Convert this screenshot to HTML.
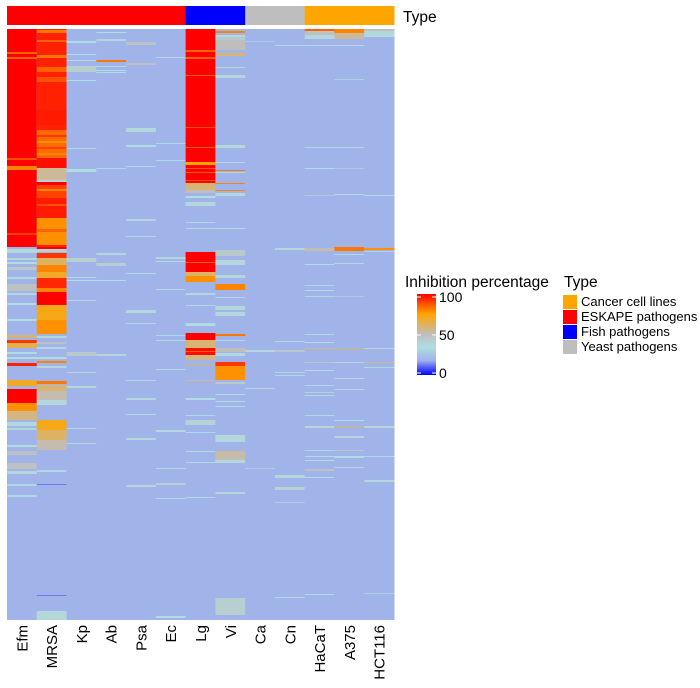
<!DOCTYPE html>
<html><head><meta charset="utf-8">
<style>
body{margin:0;background:#fff;}
svg{display:block;font-family:"Liberation Sans",Arial,sans-serif;}
</style></head>
<body>
<svg id="chart" width="700" height="688" xmlns="http://www.w3.org/2000/svg">
  <defs>
    <linearGradient id="grad" x1="0" y1="1" x2="0" y2="0">
      <stop offset="0" stop-color="#0000ff"/>
      <stop offset="0.18" stop-color="#a0b4ea"/>
      <stop offset="0.35" stop-color="#b0dde2"/>
      <stop offset="0.5" stop-color="#bebebe"/>
      <stop offset="0.75" stop-color="#ffa500"/>
      <stop offset="1" stop-color="#ff0000"/>
    </linearGradient>
  </defs>
  <g id="typebar"></g>
  <text x="403" y="22" font-size="15.5">Type</text>
  <g id="cells"></g>
  <g id="xlabels"></g>
  <g>
    <text x="405" y="287" font-size="15.5">Inhibition percentage</text>
    <rect x="417" y="294" width="19" height="81" fill="url(#grad)"/>
    <g stroke="#fff" stroke-width="1">
      <line x1="417" y1="297" x2="421" y2="297"/><line x1="432" y1="297" x2="436" y2="297"/>
      <line x1="417" y1="335" x2="421" y2="335"/><line x1="432" y1="335" x2="436" y2="335"/>
      <line x1="417" y1="373" x2="421" y2="373"/><line x1="432" y1="373" x2="436" y2="373"/>
    </g>
    <text x="439" y="302" font-size="14">100</text>
    <text x="439" y="340" font-size="14">50</text>
    <text x="439" y="378" font-size="14">0</text>
  </g>
  <g>
    <text x="564" y="287" font-size="15.5">Type</text>
    <rect x="563" y="295" width="14" height="14" fill="#ffa500"/>
    <text x="581" y="306" font-size="13">Cancer cell lines</text>
    <rect x="563" y="310" width="14" height="14" fill="#ff0000"/>
    <text x="581" y="321" font-size="13">ESKAPE pathogens</text>
    <rect x="563" y="325" width="14" height="14" fill="#0000ff"/>
    <text x="581" y="336" font-size="13">Fish pathogens</text>
    <rect x="563" y="340" width="14" height="14" fill="#bebebe"/>
    <text x="581" y="351" font-size="13">Yeast pathogens</text>
  </g>
</svg>
<script>
const columns = ["Efm","MRSA","Kp","Ab","Psa","Ec","Lg","Vi","Ca","Cn","HaCaT","A375","HCT116"];
const columnTypes = ["ESKAPE","ESKAPE","ESKAPE","ESKAPE","ESKAPE","ESKAPE","Fish","Fish","Yeast","Yeast","Cancer","Cancer","Cancer"];
const baseValue = 18;
const rowCount = 591;
// segments per column: [startRow, endRow, inhibition %]
const segEfm = [[0,218,100],[23,25,85],[28,30,85],[129,131,88],[137,141,80],[204,206,90],
 [220,224,38],[229,231,38],[233,235,35],[238,241,45],[248,250,38],[255,262,48],[264,266,38],[274,276,35],
 [290,292,35],[306,309,60],[311,314,92],[314,319,65],[323,325,35],[328,330,35],[334,337,95],[351,357,70],
 [360,374,100],[374,382,78],[382,391,58],[393,397,38],[399,401,38],[416,418,35],[422,426,48],[434,440,48],[442,445,38],[455,457,33],[466,468,33]];
const segMRSA = [[0,218,95],[1,4,82],[11,13,85],[26,29,82],[38,43,85],[48,53,88],[81,96,96],[101,129,84],[106,108,92],[112,114,78],[118,120,90],[124,126,80],[129,139,98],
 [139,153,55],[151,153,40],[153,156,100],[156,169,90],[160,162,80],[169,189,96],[175,177,88],[189,216,78],[200,203,85],[218,220,100],[220,223,40],[224,229,92],[229,236,62],
 [236,243,80],[243,249,70],[249,259,94],[259,263,80],[263,276,100],[276,296,72],
 [291,305,78],[307,309,38],[313,315,48],[318,320,38],[328,330,35],[332,334,80],[337,339,38],[352,355,82],[356,362,60],[362,371,52],[371,376,38],
 [391,401,72],[401,411,62],[411,421,52],[441,443,33],[455,456,12],[566,567,12],[582,591,38]];
const segKp = [[12,14,35],[25,26,35],[31,32,35],[37,43,42],[51,52,35],[119,120,33],[140,143,35],[229,233,42],[248,249,33],[251,252,35],[271,272,33],
 [323,325,35],[323,327,45],[343,344,33],[357,359,38],[399,400,33],[414,415,33]];
const segAb = [[3,4,35],[10,12,38],[31,33,82],[37,38,35],[41,42,35],[43,44,35],[139,140,33],[224,226,38],[234,237,42],[251,252,35],[325,327,38]];
const segPsa = [[13,16,48],[34,36,48],[99,103,38],[116,118,35],[137,138,33],[190,192,38],[207,208,33],[244,245,33],[281,284,38],
 [294,295,33],[351,352,33],[369,371,38],[385,386,33],[409,411,38],[456,458,38]];
const segEc = [[28,29,33],[114,115,33],[131,132,33],[228,230,38],[232,233,35],[260,261,33],[306,307,33],[311,312,33],[340,341,33],[401,403,38],[439,440,33],[454,456,40],[469,470,33],[587,589,35]];
const segLg = [[0,154,100],[21,23,85],[28,30,85],[46,47,85],[98,99,88],[118,119,85],[133,136,75],[139,140,88],[143,144,85],[151,152,88],
 [154,161,60],[161,164,50],[167,169,35],[173,177,38],[193,194,33],[199,200,33],[223,243,100],[233,234,85],[243,247,62],[247,253,78],[264,266,38],[276,277,33],[294,295,33],
 [295,297,35],[304,311,100],[311,319,60],[319,326,98],[322,323,85],[326,331,58],[335,336,62],[351,352,55],[369,371,35],[386,387,33],[391,396,40],[403,404,33],[422,423,35],[433,434,33],[468,469,33]];
const segVi = [[2,4,80],[6,8,38],[8,11,45],[11,21,50],[24,27,60],[38,39,38],[46,49,38],[116,119,38],[133,134,33],[141,142,82],[143,144,38],
 [154,155,80],[161,162,80],[164,167,38],[199,200,35],[221,227,45],[231,236,38],[246,249,38],[255,261,80],[268,269,38],[277,281,38],[283,287,38],
 [305,307,82],[311,312,38],[319,323,50],[324,327,38],[333,337,92],[337,351,78],[353,355,45],[365,366,35],[372,373,35],[377,378,35],
 [406,413,38],[422,424,55],[424,431,52],[431,434,38],[463,465,38],[569,586,42]];
const segCa = [[12,13,28],[321,323,38],[359,360,33],[439,440,28]];
const segCn = [[16,17,33],[219,221,38],[312,313,33],[321,323,45],[343,344,33],[346,347,33],[446,449,38],[458,461,40],[473,474,30],[568,569,33]];
const segHaCaT = [[0,2,85],[2,6,48],[6,10,38],[16,17,33],[118,119,33],[139,140,35],[166,167,45],[219,222,52],[235,236,35],[256,257,33],[261,262,35],[267,268,33],
 [305,306,33],[313,314,35],[319,320,58],[333,334,45],[341,342,35],[356,357,33],[363,364,40],[366,367,33],[386,387,33],[397,399,38],[421,422,33],[427,428,35],[431,432,35],[440,442,48],[448,449,35],[565,566,35]];
const segA375 = [[0,4,80],[4,10,55],[16,17,33],[50,51,30],[118,119,33],[139,140,45],[165,166,35],[218,222,82],[225,226,35],[234,235,38],[267,268,45],
 [319,320,60],[333,334,33],[349,350,33],[360,361,33],[391,392,35],[397,398,62],[407,409,38],[421,422,45],[427,429,35],[438,439,33]];
const segHCT116 = [[0,2,50],[2,6,38],[6,8,35],[166,167,35],[219,221,78],[222,223,40],[319,320,38],[333,334,58],[338,339,33],[397,399,38],[427,428,33],[451,453,38],[564,565,30]];
const columnSegments = [segEfm,segMRSA,segKp,segAb,segPsa,segEc,segLg,segVi,segCa,segCn,segHaCaT,segA375,segHCT116];

const typeColors = {ESKAPE:"#ff0000",Fish:"#0000ff",Yeast:"#bebebe",Cancer:"#ffa500"};
const X0=7, X1=394, Y0=29, Y1=620;
const colW=(X1-X0)/columns.length;
function xScale(i){return X0+i*colW;}
function yScale(r){return Y0+(r/rowCount)*(Y1-Y0);}
const stops=[[0,[0,0,255]],[18,[160,180,234]],[35,[176,221,226]],[50,[190,190,190]],[75,[255,165,0]],[100,[255,0,0]]];
function colorOf(v){
  v=Math.max(0,Math.min(100,v));
  for(let i=1;i<stops.length;i++){
    if(v<=stops[i][0]){
      const a=stops[i-1],b=stops[i],t=(v-a[0])/(b[0]-a[0]);
      const c=a[1].map((x,k)=>Math.round(x+(b[1][k]-x)*t));
      return "rgb("+c.join(",")+")";
    }
  }
  return "rgb(255,0,0)";
}
const NS="http://www.w3.org/2000/svg";
const typebar=document.getElementById("typebar");
const cells=document.getElementById("cells");
const xl=document.getElementById("xlabels");
columns.forEach((name,i)=>{
  const x=xScale(i);
  const t=document.createElementNS(NS,"rect");
  t.setAttribute("x",x);t.setAttribute("y",6);t.setAttribute("width",colW+0.5);t.setAttribute("height",19);
  t.setAttribute("fill",typeColors[columnTypes[i]]);
  
  
  typebar.appendChild(t);
  const bg=document.createElementNS(NS,"rect");
  bg.setAttribute("x",x);bg.setAttribute("y",Y0);bg.setAttribute("width",colW+0.5);bg.setAttribute("height",Y1-Y0);
  bg.setAttribute("fill",colorOf(baseValue));
  
  
  cells.appendChild(bg);
  columnSegments[i].forEach(s=>{
    const r=document.createElementNS(NS,"rect");
    const ya=yScale(s[0]), yb=yScale(s[1]);
    r.setAttribute("x",x);r.setAttribute("y",ya);r.setAttribute("width",colW+0.5);r.setAttribute("height",Math.max(0.8,yb-ya));
    r.setAttribute("fill",colorOf(s[2]));
    
    
    cells.appendChild(r);
  });
  const lb=document.createElementNS(NS,"text");
  const cx=x+colW/2+5.5;
  lb.setAttribute("x",cx);lb.setAttribute("y",625);
  lb.setAttribute("transform","rotate(-90 "+cx+" 625)");
  lb.setAttribute("text-anchor","end");lb.setAttribute("font-size","15");
  lb.textContent=name;
  
  
  xl.appendChild(lb);
});
</script>
</body></html>
